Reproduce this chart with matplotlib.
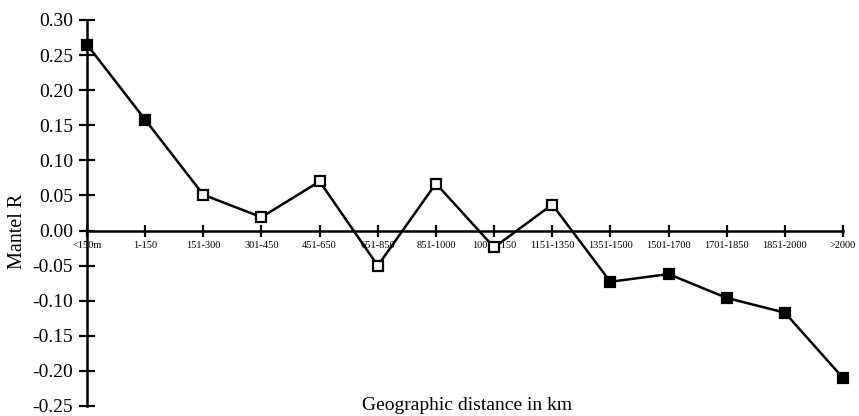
import matplotlib
matplotlib.use("Agg")
import matplotlib.pyplot as plt

categories = ["<150m", "1-150", "151-300", "301-450", "451-650", "651-850",
              "851-1000", "1001-1150", "1151-1350", "1351-1500", "1501-1700",
              "1701-1850", "1851-2000", ">2000"]
mantel_r = [0.265, 0.158, 0.051, 0.019, 0.070, -0.050, 0.067, -0.024,
            0.037, -0.073, -0.062, -0.096, -0.117, -0.210]
significant = [True, True, False, False, False, False, False, False,
               False, True, True, True, True, True]
y_ticks = [0.30, 0.25, 0.20, 0.15, 0.10, 0.05, 0.00, -0.05, -0.10, -0.15, -0.20, -0.25]

plt.rcParams['font.family'] = ['Liberation Serif', 'DejaVu Serif']

fig = plt.figure(figsize=(8.59, 4.16), dpi=100)
ax = fig.add_axes([87/859, 1-406/416, (843-87)/859, (406-20)/416])

x = list(range(len(categories)))
ax.plot(x, mantel_r, color='black', lw=1.8, zorder=2, clip_on=False)
for xi, yi, s in zip(x, mantel_r, significant):
    ax.plot([xi], [yi], marker='s', ms=7.5, mec='black', mew=1.6,
            mfc='black' if s else 'white', zorder=3, clip_on=False)

ax.set_xlim(0, len(categories) - 1)
ax.set_ylim(-0.25, 0.30)

ax.spines['top'].set_visible(False)
ax.spines['right'].set_visible(False)
ax.spines['left'].set_position(('data', 0))
ax.spines['bottom'].set_position(('data', 0))
ax.spines['left'].set_linewidth(1.8)
ax.spines['bottom'].set_linewidth(1.8)

ax.set_yticks(y_ticks)
ax.set_yticklabels([f"{v:.2f}" for v in y_ticks], fontsize=14)
ax.tick_params(axis='y', direction='inout', length=12, width=1.6, pad=4)

ax.set_xticks(x)
ax.set_xticklabels(categories, fontsize=7.5)
ax.tick_params(axis='x', direction='inout', length=9, width=1.6, pad=3)

fig.text(17/859, 1-231/416, "Mantel R", rotation=90, fontsize=14.5,
         ha='center', va='center')
fig.text(467/859, 1-405/416, "Geographic distance in km", fontsize=14,
         ha='center', va='center')

fig.savefig("out.png", dpi=100)
